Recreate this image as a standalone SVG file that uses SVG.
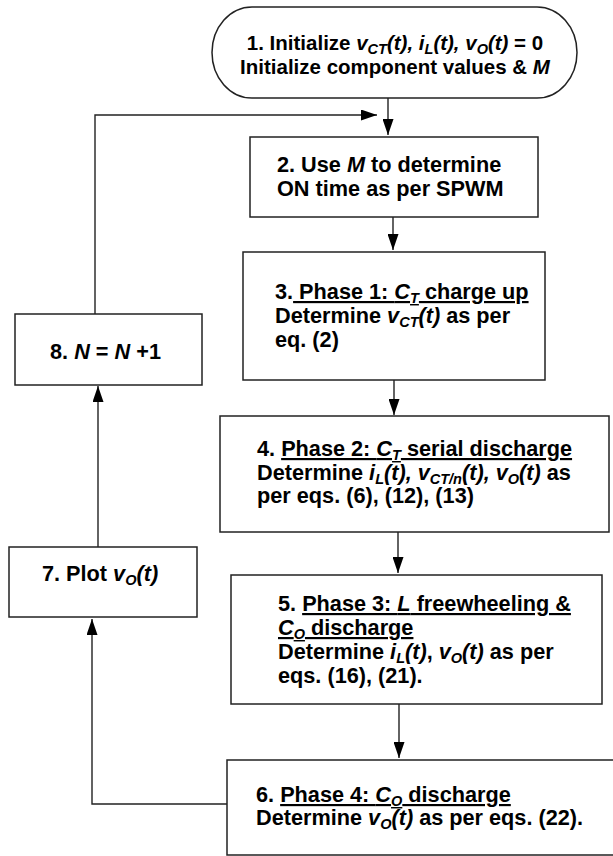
<svg xmlns="http://www.w3.org/2000/svg" width="613" height="856" viewBox="0 0 613 856">
<style>
.box{fill:#fff;stroke:#222;stroke-width:1.5}
.t{font-family:"Liberation Sans",Arial,sans-serif;font-weight:bold;font-size:21.7px;fill:#000}
.t1{font-size:20.5px}
.i{font-style:italic}
.s{font-size:14.5px;font-style:italic}
.u{text-decoration:underline}
.c{fill:none;stroke:#222;stroke-width:1.4}
</style>
<defs>
<marker id="ah" viewBox="0 0 16 11" refX="16" refY="5.5" markerWidth="16" markerHeight="11" markerUnits="userSpaceOnUse" orient="auto">
<path d="M0,0 L16,5.5 L0,11 Z" fill="#000"/>
</marker>
</defs>
<g id="connectors">
<path class="c" d="M388,98 V135" marker-end="url(#ah)"/>
<path class="c" d="M95,314 V115 H377" marker-end="url(#ah)"/>
<path class="c" d="M393,217 V250" marker-end="url(#ah)"/>
<path class="c" d="M394,380 V415" marker-end="url(#ah)"/>
<path class="c" d="M398,532 V573" marker-end="url(#ah)"/>
<path class="c" d="M399,704 V758" marker-end="url(#ah)"/>
<path class="c" d="M227,804 H92 V619" marker-end="url(#ah)"/>
<path class="c" d="M98,547 V386" marker-end="url(#ah)"/>
</g>
<g id="node1">
<path class="box" d="M252,7 H537 A40,45.5 0 0 1 537,98 H252 A40,45.5 0 0 1 252,7 Z"/>
<text class="t t1" x="395" y="50" text-anchor="middle">1. Initialize <tspan class="i">v</tspan><tspan class="s" baseline-shift="-4">CT</tspan><tspan class="i">(t), i</tspan><tspan class="s" baseline-shift="-4">L</tspan><tspan class="i">(t), v</tspan><tspan class="s" baseline-shift="-4">O</tspan><tspan class="i">(t)</tspan> = 0</text>
<text class="t t1" x="395" y="74" text-anchor="middle">Initialize component values &amp; <tspan class="i">M</tspan></text>
</g>
<g id="node2">
<rect class="box" x="250" y="137" width="288" height="80"/>
<text class="t" x="277" y="172">2. Use <tspan class="i">M</tspan> to determine</text>
<text class="t" x="277" y="196">ON time as per SPWM</text>
</g>
<g id="node3">
<rect class="box" x="243" y="252" width="302" height="128"/>
<text class="t" x="275" y="299">3.<tspan class="u"> Phase 1: <tspan class="i">C</tspan><tspan class="s" baseline-shift="-4">T</tspan> charge up</tspan></text>
<text class="t" x="275" y="323">Determine <tspan class="i">v</tspan><tspan class="s" baseline-shift="-4">CT</tspan><tspan class="i">(t)</tspan> as per</text>
<text class="t" x="275" y="347">eq. (2)</text>
</g>
<g id="node4">
<rect class="box" x="220" y="416" width="389" height="116"/>
<text class="t" x="257" y="456">4. <tspan class="u">Phase 2: <tspan class="i">C</tspan><tspan class="s" baseline-shift="-4">T</tspan> serial discharge</tspan></text>
<text class="t" x="257" y="480">Determine <tspan class="i">i</tspan><tspan class="s" baseline-shift="-4">L</tspan><tspan class="i">(t), v</tspan><tspan class="s" baseline-shift="-4">CT/n</tspan><tspan class="i">(t), v</tspan><tspan class="s" baseline-shift="-4">O</tspan><tspan class="i">(t)</tspan> as</text>
<text class="t" x="257" y="503">per eqs. (6), (12), (13)</text>
</g>
<g id="node5">
<rect class="box" x="231" y="575" width="371" height="129"/>
<text class="t" x="278" y="611">5. <tspan class="u">Phase 3: <tspan class="i">L</tspan> freewheeling &amp;</tspan></text>
<text class="t" x="278" y="635"><tspan class="u"><tspan class="i">C</tspan><tspan class="s" baseline-shift="-4">O</tspan> discharge</tspan></text>
<text class="t" x="278" y="659">Determine <tspan class="i">i</tspan><tspan class="s" baseline-shift="-4">L</tspan><tspan class="i">(t)</tspan>,  <tspan class="i">v</tspan><tspan class="s" baseline-shift="-4">O</tspan><tspan class="i">(t)</tspan> as per</text>
<text class="t" x="278" y="683">eqs. (16), (21).</text>
</g>
<g id="node6">
<rect class="box" x="227" y="760" width="388" height="95"/>
<text class="t" x="256" y="802">6. <tspan class="u">Phase 4: <tspan class="i">C</tspan><tspan class="s" baseline-shift="-4">O</tspan> discharge</tspan></text>
<text class="t" x="256" y="825">Determine <tspan class="i">v</tspan><tspan class="s" baseline-shift="-4">O</tspan><tspan class="i">(t)</tspan> as per eqs. (22).</text>
</g>
<g id="node7">
<rect class="box" x="9" y="547" width="188" height="70"/>
<text class="t" x="42" y="581">7. Plot <tspan class="i">v</tspan><tspan class="s" baseline-shift="-4">O</tspan><tspan class="i">(t)</tspan></text>
</g>
<g id="node8">
<rect class="box" x="15" y="314" width="187" height="71"/>
<text class="t" x="50" y="359">8. <tspan class="i">N</tspan> = <tspan class="i">N</tspan> +1</text>
</g>
</svg>
